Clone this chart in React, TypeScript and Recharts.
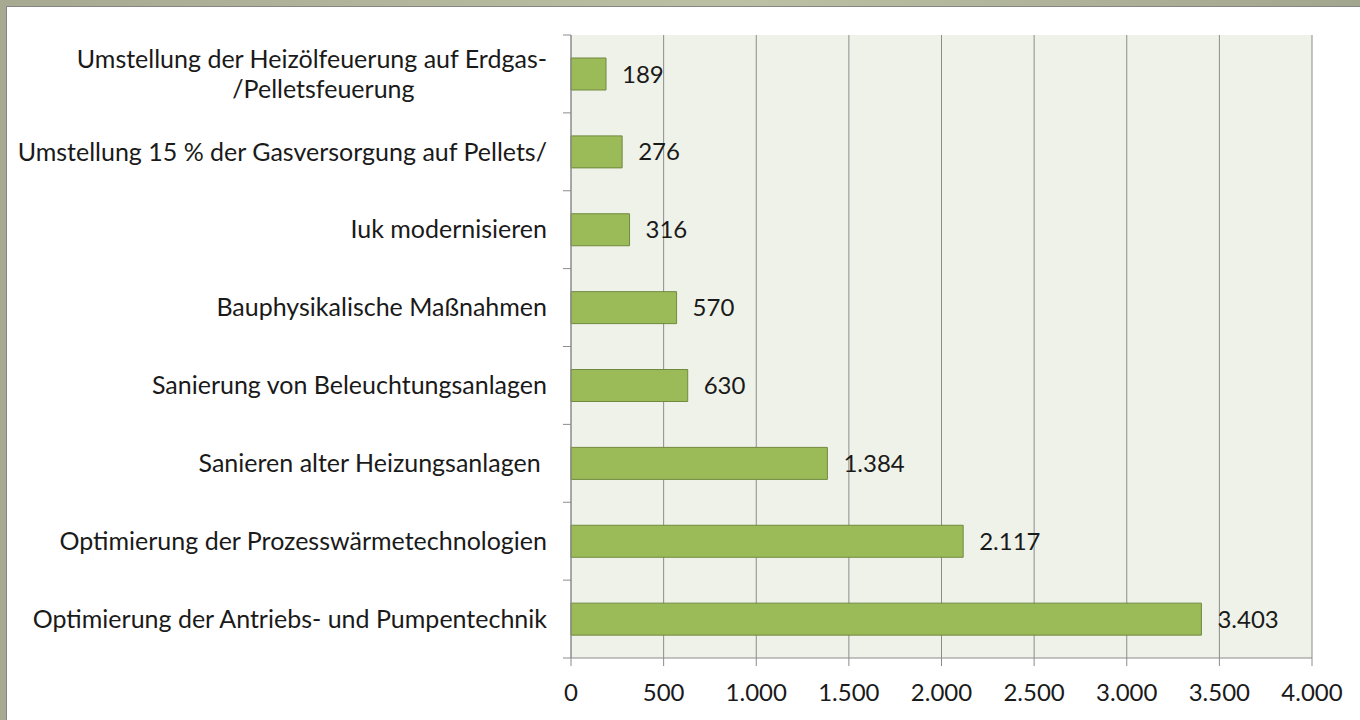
import { BarChart, Bar, XAxis, YAxis, CartesianGrid, LabelList } from 'recharts';

const categories = [
  'Umstellung der Heizölfeuerung auf Erdgas-\n/Pelletsfeuerung',
  'Umstellung 15 % der Gasversorgung auf Pellets/',
  'Iuk modernisieren',
  'Bauphysikalische Maßnahmen',
  'Sanierung von Beleuchtungsanlagen',
  'Sanieren alter Heizungsanlagen ',
  'Optimierung der Prozesswärmetechnologien',
  'Optimierung der Antriebs- und Pumpentechnik',
];
const savings = [189, 276, 316, 570, 630, 1384, 2117, 3403];
const xTicks = [0, 500, 1000, 1500, 2000, 2500, 3000, 3500, 4000];

const data = categories.map((name, i) => ({ name, value: savings[i] }));

const W = 1360;
const H = 720;
const TOP = 35;
const RIGHT = 48;
const Y_AXIS_W = 571;
const X_AXIS_H = 62;
const FONT = 'Lato, "Open Sans", sans-serif';
const FS = 25; // category labels
const NS = 24; // numbers
const band = (H - TOP - X_AXIS_H) / categories.length;

// 3403 -> "3.403"
const de = (v: number) => String(v).replace(/\B(?=(\d{3})+(?!\d))/g, '.');

const measure = (s: string) => {
  const ctx = document.createElement('canvas').getContext('2d');
  if (!ctx) return s.length * FS * 0.5;
  ctx.font = `${FS}px ${FONT}`;
  return ctx.measureText(s).width;
};

const CategoryTick = (props: any) => {
  const { x, y, payload, index } = props;
  const lines: string[] = String(payload.value).split('\n');
  const axisX = x + 24;
  const center = x - measure(lines[0]) / 2 + 12;
  const lh = 30;
  const y0 = y - ((lines.length - 1) * lh) / 2;
  return (
    <g>
      <line x1={axisX - 8} x2={axisX} y1={y - band / 2} y2={y - band / 2} stroke="#8c8c8c" />
      {index === categories.length - 1 && (
        <line x1={axisX - 8} x2={axisX} y1={y + band / 2} y2={y + band / 2} stroke="#8c8c8c" />
      )}
      {lines.map((l, i) => (
        <text
          key={i}
          x={i === 0 ? x : center}
          y={y0 + i * lh}
          dy="0.35em"
          textAnchor={i === 0 ? 'end' : 'middle'}
          fill="#1a1a1a"
          fontSize={FS}
          fontFamily={FONT}
          style={{ whiteSpace: 'pre' }}
        >
          {l}
        </text>
      ))}
    </g>
  );
};

export default function App() {
  return (
    <div
      style={{
        position: 'fixed',
        left: 0,
        top: 0,
        width: W,
        height: H,
        background: 'linear-gradient(90deg, #a7aa91 0%, #bcc0a4 55%, #a3a68e 100%)',
        overflow: 'hidden',
      }}
    >
      <div
        style={{
          position: 'absolute',
          left: 6,
          top: 6,
          width: W,
          height: H,
          background: '#fff',
          borderLeft: '1px solid #858585',
          borderTop: '1px solid #858585',
        }}
      />
      <div style={{ position: 'absolute', left: 0, top: 0 }}>
        <BarChart
          width={W}
          height={H}
          data={data}
          layout="vertical"
          margin={{ top: TOP, right: RIGHT, bottom: 0, left: 0 }}
        >
          <CartesianGrid horizontal={false} fill="#eff2e9" stroke="#8c8c8c" />
          <XAxis
            type="number"
            domain={[0, 4000]}
            ticks={xTicks}
            height={X_AXIS_H}
            tickFormatter={de}
            stroke="#8c8c8c"
            tickSize={8}
            tickMargin={18}
            tick={{ fill: '#1a1a1a', fontSize: NS, fontFamily: FONT }}
            interval={0}
          />
          <YAxis
            type="category"
            dataKey="name"
            width={Y_AXIS_W}
            stroke="#8c8c8c"
            tickLine={false}
            tickSize={8}
            tickMargin={16}
            tick={<CategoryTick />}
            interval={0}
          />
          <Bar dataKey="value" fill="#9bbb59" stroke="#71893f" strokeWidth={1} barSize={32} isAnimationActive={false}>
            <LabelList
              dataKey="value"
              position="right"
              offset={16}
              formatter={(v: any) => de(Number(v))}
              fill="#1a1a1a"
              fontSize={NS}
              fontFamily={FONT}
            />
          </Bar>
        </BarChart>
      </div>
    </div>
  );
}
